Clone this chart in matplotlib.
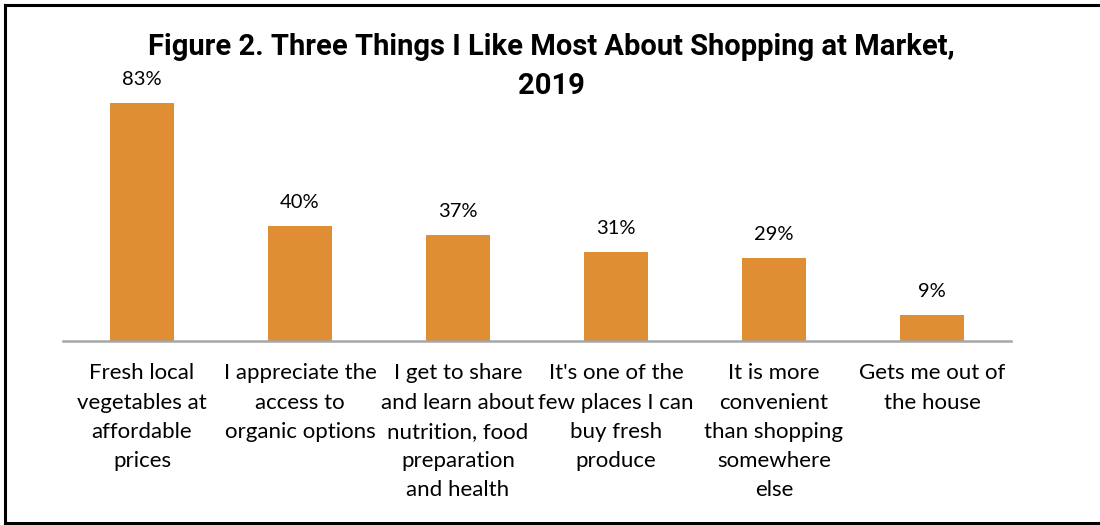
import matplotlib.pyplot as plt
from matplotlib.lines import Line2D

categories = [
    "Fresh local\nvegetables at\naffordable\nprices",
    "I appreciate the\naccess to\norganic options",
    "I get to share\nand learn about\nnutrition, food\npreparation\nand health",
    "It's one of the\nfew places I can\nbuy fresh\nproduce",
    "It is more\nconvenient\nthan shopping\nsomewhere\nelse",
    "Gets me out of\nthe house",
]
values = [83, 40, 37, 31, 29, 9]
value_labels = ["83%", "40%", "37%", "31%", "29%", "9%"]

bar_color = "#E08E33"
label_font = "Lato"

fig = plt.figure(figsize=(11, 5.25), dpi=100)

# axes: x from 63 to 1011 px, baseline at y=341 px (from top)
W, H = 1100, 525
x0, x1 = 63, 1011
y_base = 341
y_top = 83  # corresponds to ymax
ax = fig.add_axes([x0 / W, 1 - y_base / H, (x1 - x0) / W, (y_base - y_top) / H])

xs = range(len(values))
bars = ax.bar(xs, values, width=0.4, color=bar_color, zorder=2)
ax.set_xlim(-0.5, len(values) - 0.5)
ax.set_ylim(0, 90)

for x, v, lab in zip(xs, values, value_labels):
    ax.annotate(lab, (x, v), xytext=(0, 11), textcoords="offset points",
                ha="center", va="bottom", fontsize=14.5, family=label_font)

ax.set_xticks(list(xs))
ax.set_xticklabels(categories, fontsize=16, family=label_font, linespacing=1.58,
                   va="top")
ax.tick_params(axis="x", length=0, pad=16)
ax.set_yticks([])
for side in ["top", "right", "left"]:
    ax.spines[side].set_visible(False)
ax.spines["bottom"].set_color("#A6A6A6")
ax.spines["bottom"].set_linewidth(1.8)

fig.text(0.501, 1 - 47 / H, "Figure 2. Three Things I Like Most About Shopping at Market,",
         ha="center", va="center", fontsize=21, fontweight="bold", family="Roboto")
fig.text(0.501, 1 - 86 / H, "2019",
         ha="center", va="center", fontsize=21, fontweight="bold", family="Roboto")

# outer frame (right edge is off the image)
bx0, by0, by1 = 5 / W, 1 - 523 / H, 1 - 5 / H
for xd, yd in [([bx0, 1.01], [by1, by1]), ([bx0, bx0], [by0, by1]), ([bx0, 1.01], [by0, by0])]:
    fig.add_artist(Line2D(xd, yd, color="black", linewidth=2.2, transform=fig.transFigure))

fig.savefig("out.png", dpi=100)
